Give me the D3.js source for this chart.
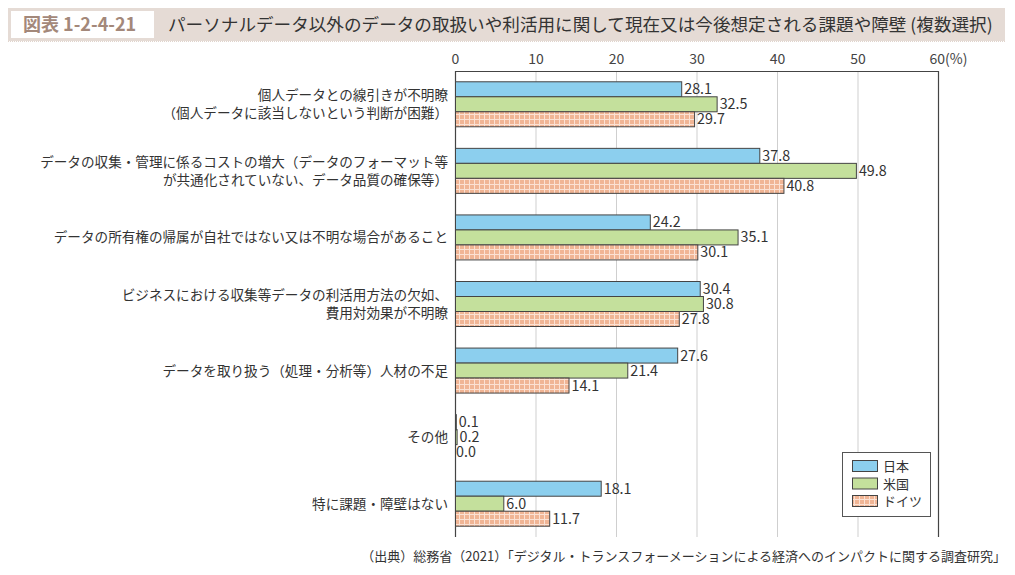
<!DOCTYPE html>
<html><head><meta charset="utf-8">
<script src="https://cdn.jsdelivr.net/npm/d3@7"></script>
<style>body{margin:0;background:#fff;} svg{display:block;font-family:"Noto Sans CJK JP","Noto Sans",sans-serif;}</style>
</head><body><svg id="c" width="1015" height="575"></svg>
<script>
const categories = [
  ["個人データとの線引きが不明瞭", "（個人データに該当しないという判断が困難）"],
  ["データの収集・管理に係るコストの増大（データのフォーマット等", "が共通化されていない、データ品質の確保等）"],
  ["データの所有権の帰属が自社ではない又は不明な場合があること"],
  ["ビジネスにおける収集等データの利活用方法の欠如、", "費用対効果が不明瞭"],
  ["データを取り扱う（処理・分析等）人材の不足"],
  ["その他"],
  ["特に課題・障壁はない"]
];
const seriesNames = ["日本", "米国", "ドイツ"];
const japan   = [28.1, 37.8, 24.2, 30.4, 27.6, 0.1, 18.1];
const usa     = [32.5, 49.8, 35.1, 30.8, 21.4, 0.2, 6.0];
const germany = [29.7, 40.8, 30.1, 27.8, 14.1, 0.0, 11.7];
const tickValues = [0, 10, 20, 30, 40, 50, 60];
const titleLabel = "図表 1-2-4-21";
const titleText = "パーソナルデータ以外のデータの取扱いや利活用に関して現在又は今後想定される課題や障壁 (複数選択)";
const sourceText = "（出典）総務省（2021）「デジタル・トランスフォーメーションによる経済へのインパクトに関する調査研究」";

const series = [japan, usa, germany];
const colors = ["#8ccfee", "#c4e09c", "#f2b999"];

const svg = d3.select("#c");
const defs = svg.append("defs");
const pat = defs.append("pattern").attr("id","grid").attr("patternUnits","userSpaceOnUse")
  .attr("width",5).attr("height",5);
pat.append("rect").attr("width",5).attr("height",5).attr("fill","#f0b595");
pat.append("path").attr("d","M4.5,0V5M0,4.5H5").attr("stroke","#fbe1d3").attr("stroke-width",1);

// Title bar
svg.append("rect").attr("x",8).attr("y",8).attr("width",997).attr("height",33).attr("fill","#e5dbd5");
svg.append("rect").attr("x",11).attr("y",11).attr("width",143).attr("height",27).attr("fill","#fff");
svg.append("line").attr("x1",8).attr("x2",1005).attr("y1",41.5).attr("y2",41.5)
  .attr("stroke","#e0d4cc").attr("stroke-dasharray","1,1");
svg.append("text").attr("x",23).attr("y",31).attr("font-size",18).attr("font-weight","bold")
  .attr("fill","#a3887a").text(titleLabel);
svg.append("text").attr("x",168).attr("y",31).attr("font-size",17.6).attr("fill","#333").text(titleText);

const x0 = 455, x1 = 938, yTop = 71, yBot = 537;
const x = d3.scaleLinear().domain([0,60]).range([x0,x1]);
const y = d3.scaleBand().domain(d3.range(categories.length)).range([yTop,yBot]).paddingInner(0).paddingOuter(0);
const barH = 15;

// grid
svg.append("g").selectAll("line").data(tickValues.slice(1,-1)).join("line")
  .attr("x1",d=>x(d)+0.5).attr("x2",d=>x(d)+0.5).attr("y1",yTop).attr("y2",yBot)
  .attr("stroke","#cfcfcf").attr("stroke-width",1);

// axis labels
const ax = svg.append("g").attr("transform",`translate(0,${yTop})`)
  .call(d3.axisTop(x).tickValues(tickValues).tickSize(0).tickPadding(7).tickFormat(d=> d===60 ? "60(%)" : d));
ax.select(".domain").remove();
ax.selectAll("text").attr("font-size",14).attr("fill","#444").attr("font-family","'Noto Sans CJK JP',sans-serif");
ax.selectAll(".tick").filter(d=>d===60).select("text").attr("text-anchor","start").attr("dx",-9);

// frame
svg.append("path").attr("d",`M${x0+0.5},${yBot}V${yTop+0.5}H${x1+0.5}V${yBot}`)
  .attr("fill","none").attr("stroke","#444").attr("stroke-width",1.2);

// bars
categories.forEach((cat,i)=>{
  const start = y(i) + (y.bandwidth() - barH*3)/2;
  series.forEach((s,j)=>{
    const v = s[i];
    const by = start + j*barH;
    if (v > 0) {
      svg.append("rect").attr("x",x(0)+0.5).attr("y",by).attr("width",x(v)-x(0)).attr("height",barH)
        .attr("fill", j===2 ? "url(#grid)" : colors[j]).attr("stroke","#444").attr("stroke-width",1);
    }
    svg.append("text").attr("x",x(v)+ (v>0?3:1)).attr("y",by+barH/2+5).attr("font-size",14.3)
      .attr("fill","#333").text(v.toFixed(1));
  });
  // label
  const cy = y(i) + y.bandwidth()/2;
  const n = cat.length;
  cat.forEach((line,k)=>{
    svg.append("text").attr("x",448).attr("y",cy + (k-(n-1)/2)*18 + 5).attr("text-anchor","end")
      .attr("font-size",13.6).attr("fill","#333").text(line);
  });
});

// legend
const lg = svg.append("g");
lg.append("rect").attr("x",842.5).attr("y",452.5).attr("width",88).attr("height",64)
  .attr("fill","#fff").attr("stroke","#555").attr("stroke-width",1);
seriesNames.forEach((nm,j)=>{
  const ly = 460 + j*17.5;
  lg.append("rect").attr("x",852.5).attr("y",ly+0.5).attr("width",25).attr("height",11)
    .attr("fill", j===2 ? "url(#grid)" : colors[j]).attr("stroke","#444");
  lg.append("text").attr("x",883).attr("y",ly+11).attr("font-size",13).attr("fill","#333").text(nm);
});

// source
svg.append("text").attr("x",1006).attr("y",561).attr("text-anchor","end").attr("font-size",13)
  .attr("fill","#333").text(sourceText);
</script></body></html>
